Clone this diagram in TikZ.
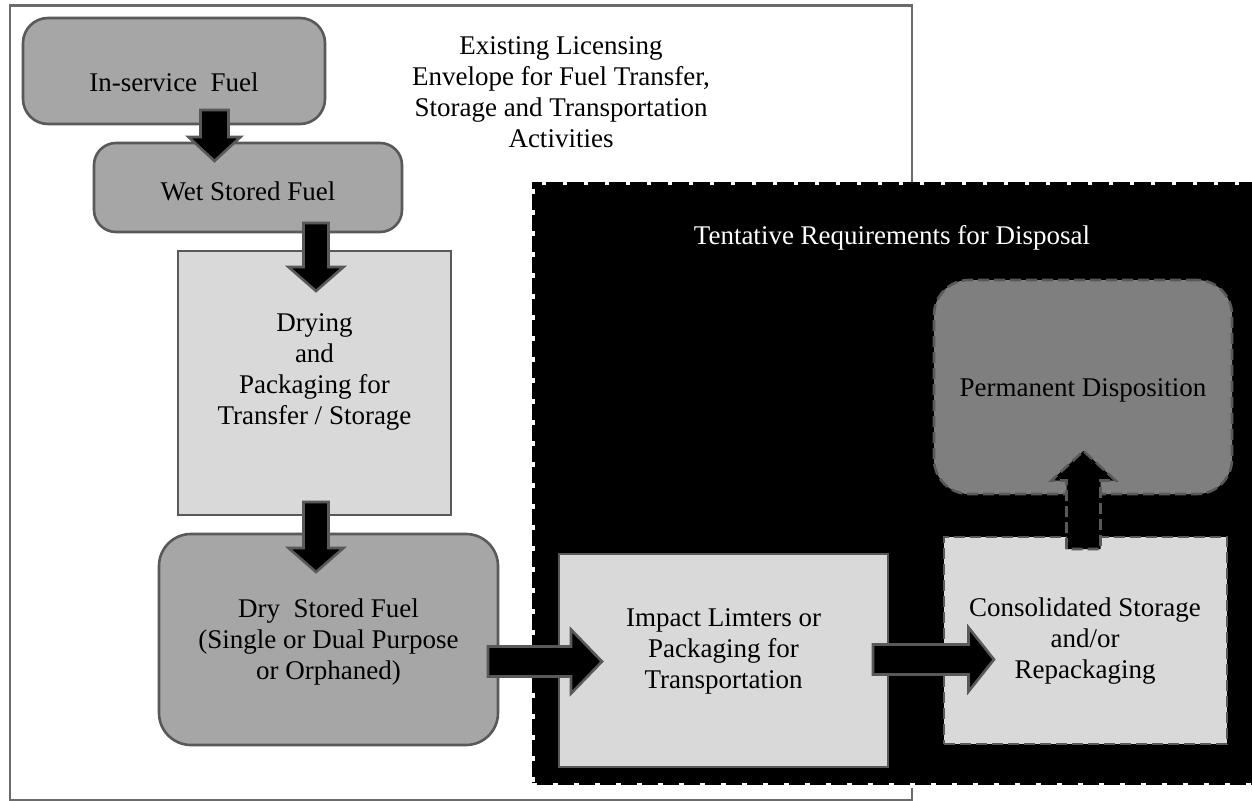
\documentclass[tikz,border=0pt]{standalone}
\usepackage{fontspec}
\setmainfont{Liberation Serif}
\usetikzlibrary{calc}

\definecolor{boxdark}{HTML}{A6A6A6}
\definecolor{boxlight}{HTML}{D9D9D9}
\definecolor{boxmid}{HTML}{7F7F7F}
\definecolor{edgegrey}{HTML}{595959}
\definecolor{framegrey}{HTML}{6B6B6B}

\tikzset{
  every node/.style={font=\fontsize{27}{31}\selectfont, align=center, inner sep=0pt, outer sep=0pt},
  stage/.style={draw=edgegrey, line width=2.6pt},
  darkstage/.style={stage, fill=boxdark},
  lightstage/.style={stage, fill=boxlight},
  planned/.style={dash pattern=on 11pt off 5pt},
  envelopebox/.style={draw=framegrey, line width=2.6pt, fill=white},
  disposalbox/.style={fill=black, draw=white, line width=5pt, dash pattern=on 4.5pt off 16.5pt},
  fatarrowstyle/.style={fill=black, draw=edgegrey, line width=2.6pt, line join=miter},
}

% block arrow: start, tip, shaft half width, head half width, head length
\newcommand\fatarrow[6][]{%
  \draw[fatarrowstyle,#1] let \p1=(#2), \p2=(#3), \p3=($(#3)!#6pt!(#2)$) in
    ($(\p1)!#4pt!90:(\p2)$) -- ($(\p3)!#4pt!-90:(\p1)$) -- ($(\p3)!#5pt!-90:(\p1)$)
    -- (\p2) -- ($(\p3)!#5pt!90:(\p1)$) -- ($(\p3)!#4pt!90:(\p1)$)
    -- ($(\p1)!#4pt!-90:(\p2)$) -- cycle;
}

\begin{document}
\begin{tikzpicture}[x=1pt,y=-1pt]
\useasboundingbox (0,0) rectangle (1252,800);

% the two regions
\node[envelopebox, minimum width=902pt, minimum height=795pt] (envelope) at (461,403) {};
\node (envelopetext) at (561,92) {Existing Licensing\\Envelope for Fuel Transfer,\\Storage and Transportation\\Activities};
\node[disposalbox, minimum width=724pt, minimum height=603pt] (disposal) at (894,483.5) {};
\node[text=white] (disposaltext) at (892,238) {Tentative Requirements for Disposal};

% stages
\node[darkstage, rounded corners=25pt, minimum width=302pt, minimum height=106pt] (inservice) at (174,71) {};
\node[darkstage, rounded corners=22pt, minimum width=308pt, minimum height=89pt] (wet) at (248,187.5) {};
\node[lightstage, minimum width=273pt, minimum height=264pt] (drying) at (314.5,383) {};
\node[darkstage, rounded corners=32pt, minimum width=339pt, minimum height=211pt] (dry) at (328.5,639.5) {};
\node[lightstage, minimum width=329pt, minimum height=213pt] (impact) at (723.5,660.5) {};
\node[lightstage, planned, minimum width=283pt, minimum height=207pt] (consol) at (1085.5,640.5) {};
\node[stage, planned, fill=boxmid, rounded corners=35pt, minimum width=298pt, minimum height=214pt] (perm) at (1083,387) {};

% stage labels
\node (inservicetext) at (174,82) {In-service\ \ Fuel};
\node (wettext) at (248,191) {Wet Stored Fuel};
\node (dryingtext) at (314.5,372) {Drying\\and\\Packaging for\\Transfer / Storage};
\node (drytext) at (328.5,642) {Dry\ \ Stored Fuel\\(Single or Dual Purpose\\or Orphaned)};
\node (impacttext) at (723.5,651) {Impact Limters or\\Packaging for\\Transportation};
\node (consoltext) at (1085,641) {Consolidated Storage\\and/or\\Repackaging};
\node (permtext) at (1083,390) {Permanent Disposition};

% flow arrows
\coordinate (a1s) at ($(inservice.south)+(40.5,-14)$);
\coordinate (a1t) at ($(a1s |- wet.north)+(0,18)$);
\fatarrow{a1s}{a1t}{14}{26}{24}

\coordinate (a2s) at ($(wet.south)+(68,-9)$);
\coordinate (a2t) at ($(a2s |- drying.north)+(0,40)$);
\fatarrow{a2s}{a2t}{12.5}{27.5}{24}

\coordinate (a3s) at ($(drying.south)+(1.5,-13)$);
\coordinate (a3t) at ($(a3s |- dry.north)+(0,38)$);
\fatarrow{a3s}{a3t}{12.5}{27.5}{24}

\coordinate (a4s) at ($(dry.east)+(-10,22)$);
\coordinate (a4t) at ($(a4s -| impact.west)+(43,0)$);
\fatarrow{a4s}{a4t}{15}{32}{31}

\coordinate (a5s) at ($(impact.east)+(-15,-1)$);
\coordinate (a5t) at ($(a5s -| consol.west)+(50,0)$);
\fatarrow{a5s}{a5t}{15}{32}{25.5}

\coordinate (a6s) at ($(consol.north)+(-2,12)$);
\coordinate (a6t) at ($(a6s |- perm.south)+(0,-43)$);
\fatarrow[planned]{a6s}{a6t}{17}{32}{29.5}

\end{tikzpicture}
\end{document}
